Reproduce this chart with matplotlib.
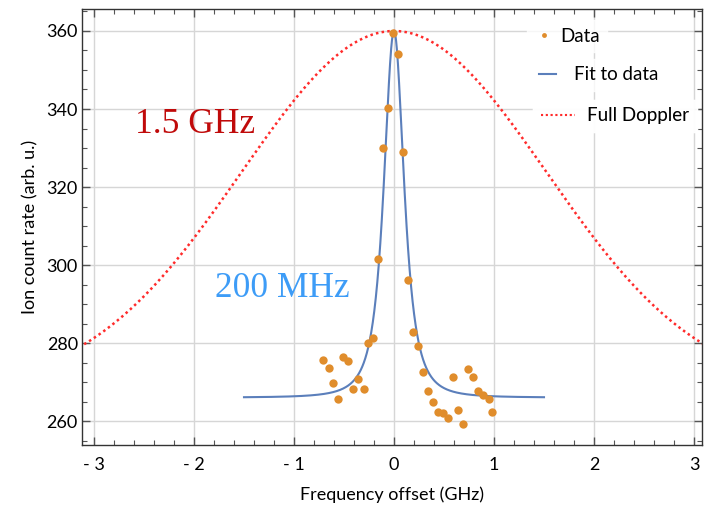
import numpy as np
import matplotlib.pyplot as plt
from matplotlib.lines import Line2D
from matplotlib.ticker import MultipleLocator, FuncFormatter

# Measured data (GHz, ion counts)
freq = [-0.007, 0.043, -0.057, -0.107, 0.093, -0.157, 0.140, -0.207, -0.257,
        0.193, 0.240, 0.293, 0.343, 0.393, -0.707, -0.650, -0.607, -0.557,
        -0.507, -0.457, -0.407, -0.357, -0.303, 0.443, 0.493, 0.543, 0.587,
        0.643, 0.687, 0.737, 0.787, 0.843, 0.893, 0.947, 0.980]
counts = [359.4, 354.0, 340.2, 330.1, 328.9, 301.5, 296.2, 281.4, 279.9,
          282.9, 279.3, 272.6, 267.7, 265.0, 275.6, 273.5, 269.7, 265.7,
          276.3, 275.5, 268.2, 270.8, 268.2, 262.3, 262.1, 260.9, 271.2,
          262.8, 259.2, 273.3, 271.4, 267.7, 266.7, 265.7, 262.4]

# Fit parameters (peaked line profile)
fit_base = 266.0
fit_amp = 94.0
fit_gamma = 0.155
fit_power = 1.5
fit_range = (-1.5, 1.5)

# Full Doppler gaussian
dop_base = 268.0
dop_amp = 92.0
dop_sigma = 1.525

x_ticks = [-3, -2, -1, 0, 1, 2, 3]
y_ticks = [260, 280, 300, 320, 340, 360]

plt.rcParams['font.family'] = ['Lato', 'DejaVu Sans']

fig = plt.figure(figsize=(7.04, 5.05), dpi=100)
ax = fig.add_axes([82/704, 1-445/505, 620/704, 436/505])

xf = np.linspace(fit_range[0], fit_range[1], 800)
yf = fit_base + fit_amp*(fit_gamma**2/(xf**2 + fit_gamma**2))**fit_power
xd = np.linspace(-3.3, 3.3, 600)
yd = dop_base + dop_amp*np.exp(-xd**2/(2*dop_sigma**2))

ax.plot(xd, yd, ls=(0, (1, 1.3)), color='#ff2b2b', lw=1.8, zorder=3)
ax.plot(xf, yf, color='#5b7fbb', lw=1.5, zorder=4)
ax.plot(freq, counts, 'o', color='#e08d2c', ms=6, mec='none', zorder=5)

ax.set_xlim(-3.12, 3.08)
ax.set_ylim(253.85, 365.64)
ax.set_xticks(x_ticks)
ax.set_yticks(y_ticks)
ax.xaxis.set_minor_locator(MultipleLocator(0.2))
ax.yaxis.set_minor_locator(MultipleLocator(5))
ax.xaxis.set_major_formatter(FuncFormatter(lambda v, p: ('- %d' % -v) if v < 0 else '%d' % v))
ax.tick_params(which='both', direction='in', top=True, right=True, color='#555555')
ax.tick_params(which='major', length=6, width=1, labelsize=13, pad=3)
ax.tick_params(axis='x', which='major', pad=9)
ax.tick_params(which='minor', length=3.5, width=0.8)
ax.grid(True, which='major', color='#d6d6d6', lw=1)
ax.set_axisbelow(True)
for s in ax.spines.values():
    s.set_color('#333333')
    s.set_linewidth(1)

ax.set_xlabel('Frequency offset (GHz)', fontsize=13, labelpad=9)
ax.set_ylabel('Ion count rate (arb. u.)', fontsize=13, labelpad=6)

ax.text(-2.59, 333.8, '1.5 GHz', family='Liberation Serif', fontsize=25.5,
        color='#c00a0a', va='baseline', zorder=6)
ax.text(-1.79, 291.8, '200 MHz', family='Liberation Serif', fontsize=25.5,
        color='#3d9cf7', va='baseline', zorder=6)

# Staggered legend entries
h_data = Line2D([], [], marker='o', ls='none', color='#e08d2c', ms=3.5, mec='none')
h_fit = Line2D([], [], color='#5b7fbb', lw=1.5)
h_dop = Line2D([], [], color='#ff2b2b', lw=1.5, ls=(0, (1, 1.3)))
entries = [(h_data, 'Data', 527, 36, 1.0, 0.35),
           (h_fit, 'Fit to data', 531, 75, 0.95, 0.95),
           (h_dop, 'Full Doppler', 533, 116, 1.85, 0.65)]
for h, lab, px, py, hl, tp in entries:
    leg = ax.legend([h], [lab], loc='center left', fontsize=13.5,
                    bbox_to_anchor=(px/704, 1-py/505), bbox_transform=fig.transFigure,
                    frameon=True, fancybox=False, borderpad=0.4, handlelength=hl,
                    handletextpad=tp, borderaxespad=0)
    leg.get_frame().set_facecolor('white')
    leg.get_frame().set_edgecolor('white')
    leg.set_zorder(7)
    ax.add_artist(leg)

fig.savefig('out.png', dpi=100)
